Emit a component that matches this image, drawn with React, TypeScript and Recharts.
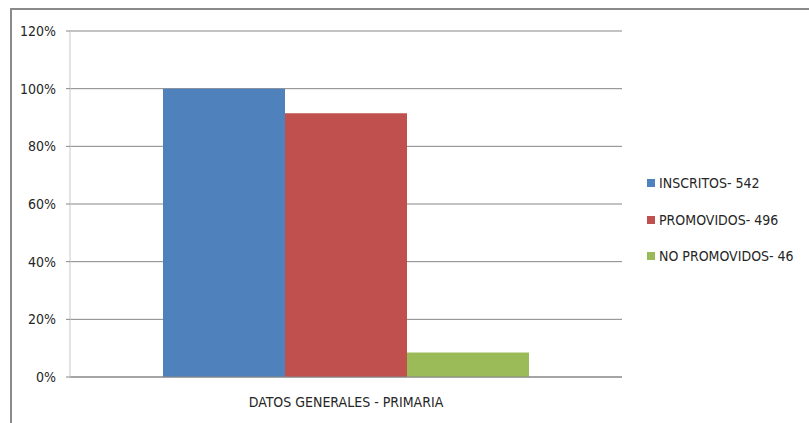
import { BarChart, Bar, XAxis, YAxis, CartesianGrid } from 'recharts'

const CATEGORIES = ['DATOS GENERALES - PRIMARIA']
const SERIES_NAMES = ['INSCRITOS- 542', 'PROMOVIDOS- 496', 'NO PROMOVIDOS- 46']
const SERIES_VALUES = [100, 91.5, 8.5]
const Y_TICKS = [0, 20, 40, 60, 80, 100, 120]

const COLORS = ['#4F81BD', '#C0504D', '#9BBB59']
const FONT = '"DejaVu Sans Condensed", "DejaVu Sans", sans-serif'

const data = CATEGORIES.map((name) => {
  const row: Record<string, string | number> = { name }
  SERIES_NAMES.forEach((s, i) => { row[`s${i}`] = SERIES_VALUES[i] })
  return row
})

// legend drawn beside the chart so it doesn't eat into the plot width
const LegendBox = () => (
  <div style={{ position: 'absolute', left: 647, top: 165, fontFamily: FONT, fontSize: 14, color: '#262626' }}>
    {SERIES_NAMES.map((s, i) => (
      <div key={s} style={{ display: 'flex', alignItems: 'center', height: 36.5 }}>
        <span style={{ width: 8, height: 8, background: COLORS[i], marginRight: 4, display: 'inline-block' }} />
        <span>{s}</span>
      </div>
    ))}
  </div>
)

export default function App() {
  return (
    <div style={{ position: 'absolute', left: 0, top: 0, width: 809, height: 423, overflow: 'hidden', background: '#fff' }}>
      <div style={{
        position: 'absolute', left: 10, top: 8, width: 830, height: 440,
        border: '2px solid #8a8a8a', boxSizing: 'border-box',
      }} />
      <div style={{ position: 'absolute', left: 0, top: 0 }}>
        <BarChart
          width={809}
          height={423}
          data={data}
          margin={{ top: 31, right: 187, left: 10, bottom: 16 }}
          barSize={122}
          barGap={0}
        >
          <CartesianGrid horizontal vertical={false} stroke="#868686" />
          <XAxis
            dataKey="name"
            height={30}
            axisLine={{ stroke: '#868686' }}
            tickLine={false}
            tick={{ fill: '#262626', fontSize: 14, fontFamily: FONT }}
            tickMargin={14}
          />
          <YAxis
            width={60}
            domain={[0, 120]}
            ticks={Y_TICKS}
            tickFormatter={(v) => `${v}%`}
            axisLine={{ stroke: '#c8c8c8' }}
            tickLine={{ stroke: '#868686' }}
            tickSize={4}
            tickMargin={10}
            tick={{ fill: '#262626', fontSize: 14, fontFamily: FONT }}
          />
          {SERIES_NAMES.map((s, i) => (
            <Bar key={s} dataKey={`s${i}`} name={s} fill={COLORS[i]} isAnimationActive={false} />
          ))}
        </BarChart>
      </div>
      <LegendBox />
    </div>
  )
}
